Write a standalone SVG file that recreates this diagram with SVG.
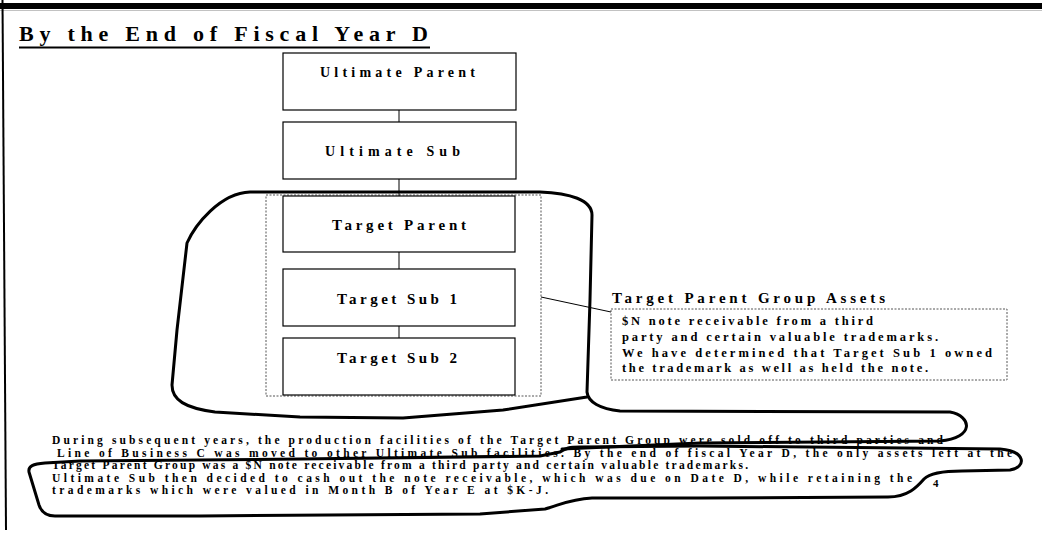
<svg xmlns="http://www.w3.org/2000/svg" width="1042" height="533" viewBox="0 0 1042 533">
  <style>
    text { font-family: "Liberation Serif", "Times New Roman", serif; font-weight: bold; fill: #000; }
    .box { fill: #fff; stroke: #000; stroke-width: 1.2; }
    .dot { fill: none; stroke: #555; stroke-width: 1; stroke-dasharray: 2 1.5; }
    .link { fill: none; stroke: #000; stroke-width: 1; }
    .ink { fill: none; stroke: #000; stroke-width: 3; stroke-linecap: round; stroke-linejoin: round; }
    .lbl { font-size: 15px; }
    .body { font-size: 12.5px; }
    .para { font-size: 11.5px; }
  </style>

  <!-- page frame -->
  <rect x="0" y="3" width="1042" height="6" fill="#000"/>
  <line x1="0" y1="10.5" x2="1042" y2="10.5" stroke="#999" stroke-width="0.6"/>
  <line x1="2.5" y1="0" x2="6" y2="530" stroke="#000" stroke-width="2"/>

  <!-- title -->
  <text x="19" y="41" font-size="22" textLength="409" lengthAdjust="spacing">By the End of Fiscal Year D</text>
  <line x1="19" y1="47.5" x2="430" y2="47.5" stroke="#000" stroke-width="2"/>

  <!-- grouping frame around the target entities -->
  <rect class="dot" x="266" y="195" width="275" height="201"/>

  <g id="connectors">
    <line class="link" x1="399" y1="110" x2="399" y2="122"/>
    <line class="link" x1="399" y1="179" x2="399" y2="196"/>
    <line class="link" x1="399" y1="252" x2="399" y2="269"/>
    <line class="link" x1="399" y1="326" x2="399" y2="338"/>
    <line class="link" x1="541" y1="297" x2="611" y2="312"/>
  </g>

  <g id="ultimate-parent">
    <rect class="box" x="283" y="53" width="233" height="57"/>
    <text x="320" y="77" font-size="14" textLength="155" lengthAdjust="spacing">Ultimate Parent</text>
  </g>
  <g id="ultimate-sub">
    <rect class="box" x="283" y="122" width="233" height="57"/>
    <text x="325" y="156" font-size="14" textLength="135" lengthAdjust="spacing">Ultimate Sub</text>
  </g>
  <g id="target-parent">
    <rect class="box" x="283" y="196" width="232" height="56"/>
    <text class="lbl" x="332" y="230" textLength="134" lengthAdjust="spacing">Target Parent</text>
  </g>
  <g id="target-sub-1">
    <rect class="box" x="283" y="269" width="232" height="57"/>
    <text class="lbl" x="337" y="304" textLength="120" lengthAdjust="spacing">Target Sub 1</text>
  </g>
  <g id="target-sub-2">
    <rect class="box" x="283" y="338" width="232" height="57"/>
    <text class="lbl" x="337" y="363" textLength="120" lengthAdjust="spacing">Target Sub 2</text>
  </g>

  <g id="target-parent-group-assets">
    <text x="612" y="303" font-size="15" textLength="273" lengthAdjust="spacing">Target Parent Group Assets</text>
    <rect class="dot" x="611" y="309" width="396" height="71"/>
    <text class="body" x="622" y="325" textLength="251" lengthAdjust="spacing">$N note receivable from a third</text>
    <text class="body" x="622" y="341" textLength="316" lengthAdjust="spacing">party and certain valuable trademarks.</text>
    <text class="body" x="622" y="357" textLength="370" lengthAdjust="spacing">We have determined that Target Sub 1 owned</text>
    <text class="body" x="622" y="372" textLength="306" lengthAdjust="spacing">the trademark as well as held the note.</text>
  </g>

  <!-- narrative -->
  <g id="narrative">
    <text class="para" x="52" y="444" textLength="891" lengthAdjust="spacing">During subsequent years, the production facilities of the Target Parent Group were sold off to third parties and</text>
    <text class="para" x="57" y="456.5" textLength="955" lengthAdjust="spacing">Line of Business C was moved to other Ultimate Sub facilities. By the end of fiscal Year D, the only assets left at the</text>
    <text class="para" x="52" y="469" textLength="696" lengthAdjust="spacing">Target Parent Group was a $N note receivable from a third party and certain valuable trademarks.</text>
    <text class="para" x="52" y="481.5" textLength="860" lengthAdjust="spacing">Ultimate Sub then decided to cash out the note receivable, which was due on Date D, while retaining the</text>
    <text class="para" x="52" y="494" textLength="496" lengthAdjust="spacing">trademarks which were valued in Month B of Year E at $K-J.</text>
    <text x="933" y="487" font-size="11">4</text>
  </g>

  <!-- hand-drawn circling marks -->
  <path class="ink" d="M 562 449 L 700 443 L 940 441 C 975 438 972 416 950 412 L 620 411 C 600 409 588 402 587 392 L 590 300 L 592 215 C 592 200 570 193 540 192 L 250 192 C 220 193 195 225 187 243 L 177 330 L 172 385 C 172 400 185 408 215 412 L 300 417 L 403 418 L 503 410 L 587 397"/>
  <path class="ink" d="M 560 452 C 565 448 570 447 580 447 L 700 446 L 1000 449 C 1026 451 1027 467 1010 470 L 962 471 C 942 471 930 473 924 479 C 917 487 908 497 888 497 L 700 498 L 592 498 C 570 499 560 505 545 509 L 480 514 L 200 516 L 55 516 C 45 516 41 511 39 505 L 29 472 C 28 466 33 464 45 463 L 80 461 L 300 459 L 540 456 Z"/>
</svg>
